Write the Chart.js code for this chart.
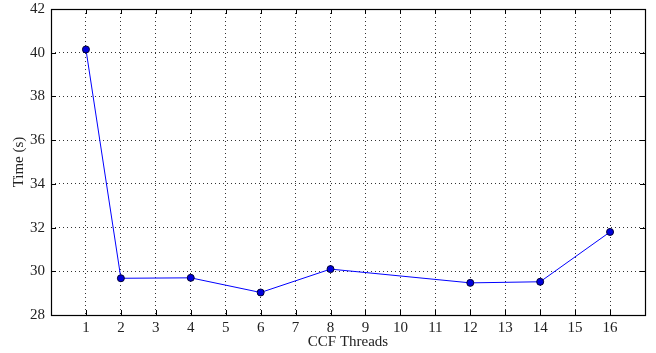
<!DOCTYPE html>
<html>
<head>
<meta charset="utf-8">
<script src="https://cdn.jsdelivr.net/npm/chart.js@4"></script>
<style>
  html, body { margin: 0; padding: 0; background: #fff; }
  #wrap { width: 656px; height: 353px; }
</style>
</head>
<body>
<div id="wrap"><canvas id="chart" width="656" height="353"></canvas></div>
<script>
const threads = [1, 2, 4, 6, 8, 12, 14, 16];
const times = [40.15, 29.68, 29.7, 29.03, 30.1, 29.47, 29.52, 31.8];
const xTicks = [1, 2, 3, 4, 5, 6, 7, 8, 9, 10, 11, 12, 13, 14, 15, 16];
const yTicks = [28, 30, 32, 34, 36, 38, 40, 42];

const FONT = "'Liberation Serif', 'DejaVu Serif', serif";

// box around the plot plus inward tick marks on all four sides
const frame = {
    id: "frame",
    afterDraw(chart) {
        const { ctx, chartArea: a, scales } = chart;
        ctx.save();
        ctx.strokeStyle = "#000";
        ctx.lineWidth = 1;
        ctx.beginPath();
        for (const v of xTicks) {
            const x = Math.round(scales.x.getPixelForValue(v)) + 0.5;
            ctx.moveTo(x, a.bottom); ctx.lineTo(x, a.bottom - 5);
            ctx.moveTo(x, a.top); ctx.lineTo(x, a.top + 5);
        }
        for (const v of yTicks) {
            const y = Math.round(scales.y.getPixelForValue(v)) + 0.5;
            ctx.moveTo(a.left, y); ctx.lineTo(a.left + 5, y);
            ctx.moveTo(a.right, y); ctx.lineTo(a.right - 5, y);
        }
        ctx.stroke();
        ctx.lineWidth = 1.2;
        ctx.strokeRect(Math.round(a.left) + 0.5, Math.round(a.top) + 0.5,
            Math.round(a.right - a.left), Math.round(a.bottom - a.top));
        ctx.restore();
    },
};

new Chart(document.getElementById("chart"), {
    type: "line",
    data: {
        datasets: [{
            data: threads.map((t, i) => ({ x: t, y: times[i] })),
            borderColor: "#0000ff",
            borderWidth: 1,
            backgroundColor: "#0000ff",
            pointBackgroundColor: "#0000dd",
            pointBorderColor: "#000033",
            pointBorderWidth: 1,
            pointRadius: 3.5,
            tension: 0,
        }],
    },
    options: {
        responsive: false,
        animation: false,
        layout: { padding: { top: 9, right: 11, left: 0, bottom: 0 } },
        plugins: { legend: { display: false }, tooltip: { enabled: false } },
        scales: {
            x: {
                type: "linear",
                min: 0,
                max: 17,
                afterBuildTicks: (s) => { s.ticks = xTicks.map((v) => ({ value: v })); },
                ticks: { color: "#222", font: { family: FONT, size: 15 }, padding: 4, maxRotation: 0 },
                grid: { color: "#333", lineWidth: 1, drawTicks: false },
                border: { display: false, dash: [1, 3] },
                title: { display: true, text: "CCF Threads", color: "#222", font: { family: FONT, size: 15 }, padding: { top: 0, bottom: 2 } },
                afterFit: (s) => { s.height = 38; s.paddingLeft = 0; s.paddingRight = 0; },
            },
            y: {
                min: 28,
                max: 42,
                afterBuildTicks: (s) => { s.ticks = yTicks.map((v) => ({ value: v })); },
                ticks: { color: "#222", font: { family: FONT, size: 15 }, padding: 6 },
                grid: { color: (c) => (c.tick && (c.tick.value === 28 || c.tick.value === 42) ? "rgba(0,0,0,0)" : "#333"), lineWidth: 1, drawTicks: false },
                border: { display: false, dash: [1, 3] },
                title: { display: true, text: "Time (s)", color: "#222", font: { family: FONT, size: 15 }, padding: { top: 10, bottom: 0 } },
                afterFit: (s) => { s.width = 51; s.paddingTop = 0; s.paddingBottom = 0; },
            },
        },
    },
    plugins: [frame],
});
</script>
</body>
</html>
